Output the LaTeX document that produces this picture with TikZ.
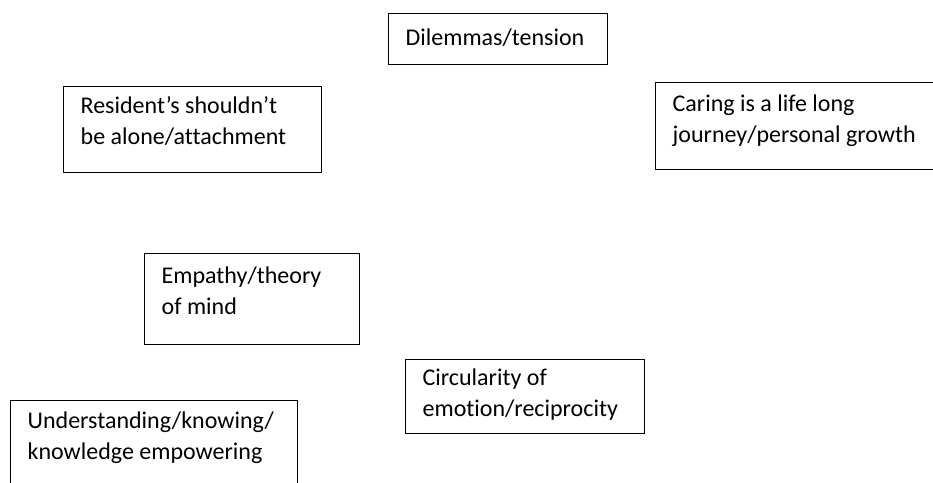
\documentclass[tikz,border=0pt]{standalone}
\usepackage{fontspec}
\setmainfont{Carlito}[Ligatures=NoCommon]
\usepackage{tikz}
\usetikzlibrary{positioning}
\tikzset{
    theme/.style={rectangle, draw, line width=1.3pt, anchor=north west, align=flush left, inner xsep=17pt, inner ysep=0pt, font=\fontsize{24}{30.5}\selectfont},
}

\begin{document}
\begin{tikzpicture}[x=1pt, y=-1pt]
    \clip (0,0) rectangle (933,482);
    \node[theme, text width=185pt, text height=32pt, text depth=19pt] (dilemmas) at (388,13) {Dilemmas/tension};
    \node[theme, text width=224pt, text height=27pt, text depth=59pt] (resident) at (63,86) {Resident’s shouldn’t\\be alone/attachment};
    \node[theme, text width=266pt, text height=29pt, text depth=58pt] (caring) at (655,82) {Caring is a life long\\journey/personal growth};
    \node[theme, text width=181pt, text height=30pt, text depth=61pt] (empathy) at (144,253) {Empathy/theory\\of mind};
    \node[theme, text width=205pt, text height=26pt, text depth=48pt] (circular) at (405,359) {Circularity of\\emotion/reciprocity};
    \node[theme, text width=253pt, text height=28pt, text depth=88pt] (knowing) at (10,400) {Understanding/knowing/\\knowledge empowering};
\end{tikzpicture}
\end{document}
